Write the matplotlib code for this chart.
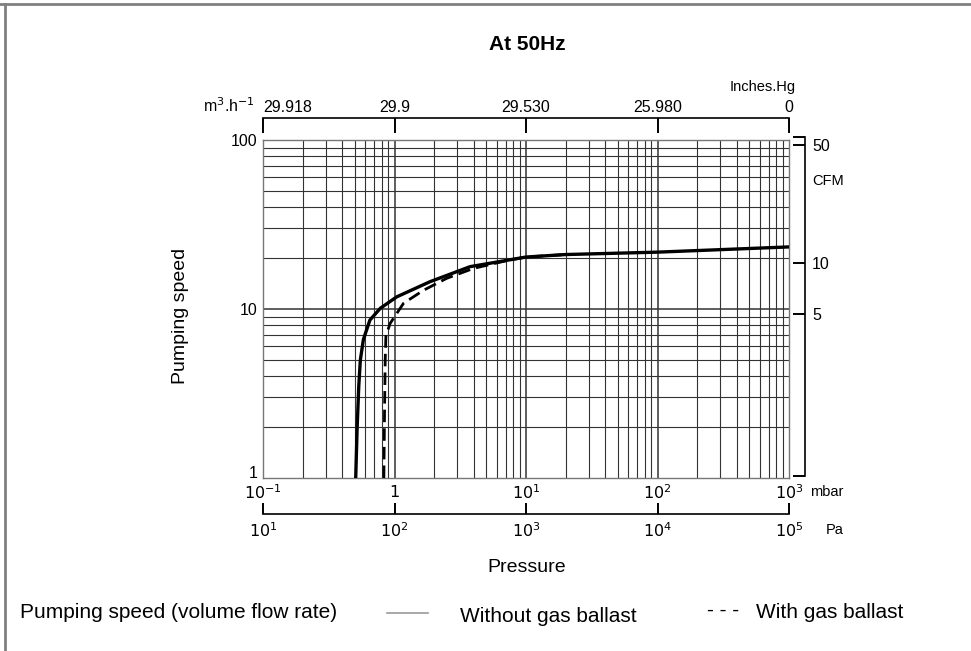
import matplotlib
matplotlib.use("Agg")
import matplotlib.pyplot as plt
from matplotlib.lines import Line2D
from matplotlib.ticker import FixedLocator, NullFormatter, NullLocator

plt.rcParams["font.family"] = ["Liberation Sans", "DejaVu Sans"]

# curve without gas ballast (pressure in mbar, speed in m3/h)
p_no_ballast = [0.507, 0.52, 0.535, 0.55, 0.58, 0.65, 0.78, 1.04, 1.86, 3.75, 10, 20, 100, 1000]
s_no_ballast = [1.0, 2.0, 3.5, 5.0, 6.6, 8.6, 10.1, 11.8, 14.5, 17.8, 20.3, 21.0, 21.7, 23.3]

# curve with gas ballast
p_ballast = [0.83, 0.84, 0.85, 0.86, 0.925, 1.17, 1.66, 2.5, 4.0, 7.5, 10, 20]
s_ballast = [1.0, 2.5, 5.0, 6.9, 8.2, 10.8, 12.9, 15.2, 17.4, 19.5, 20.3, 21.0]

mbar_ticks = [0.1, 1, 10, 100, 1000]
mbar_labels = ["$10^{-1}$", "$1$", "$10^{1}$", "$10^{2}$", "$10^{3}$"]
pa_labels = ["$10^{1}$", "$10^{2}$", "$10^{3}$", "$10^{4}$", "$10^{5}$"]
inhg_labels = ["29.918", "29.9", "29.530", "25.980", "0"]
speed_ticks = [1, 10, 100]
cfm_ticks = [5, 10, 50]
M3H_PER_CFM = 1.8  # as drawn on the original scale

W, H = 971, 651
fig = plt.figure(figsize=(W / 100, H / 100), dpi=100)


def fx(px):
    return px / W


def fy(py):
    return 1 - py / H


TICK_FS = 11.5
left, right, top, bottom = 263, 789, 140, 478
ax = fig.add_axes([fx(left), fy(bottom), fx(right - left), fy(top) - fy(bottom)])
ax.set_xscale("log")
ax.set_yscale("log")
ax.set_xlim(0.1, 1000)
ax.set_ylim(1, 100)

# log grid
for k in range(-1, 3):
    for m in range(1, 10):
        v = m * 10 ** k
        if 0.1 < v < 1000:
            ax.axvline(v, color="#333333", lw=0.8 if m > 1 else 1.1, zorder=1)
for k in range(0, 2):
    for m in range(1, 10):
        v = m * 10 ** k
        if 1 < v < 100:
            ax.axhline(v, color="#333333", lw=0.8 if m > 1 else 1.1, zorder=1)

ax.plot(p_no_ballast, s_no_ballast, color="black", lw=2.4, zorder=3)
ax.plot(p_ballast, s_ballast, color="black", lw=2.0, dashes=(4.5, 2.2), zorder=3)

for s in ax.spines.values():
    s.set_color("#777777")
    s.set_linestyle((0, (2, 1)))
    s.set_linewidth(1.0)

ax.xaxis.set_major_locator(FixedLocator(mbar_ticks))
ax.set_xticklabels(mbar_labels)
ax.xaxis.set_minor_locator(NullLocator())
ax.yaxis.set_major_locator(FixedLocator(speed_ticks))
ax.set_yticklabels([str(v) for v in speed_ticks])
ax.yaxis.set_minor_locator(NullLocator())
ax.yaxis.set_minor_formatter(NullFormatter())
ax.tick_params(axis="both", length=0, labelsize=TICK_FS, pad=4)
# the "1" sits just above the bottom edge, clear of the mbar labels
ax.get_yticklabels()[0].set_verticalalignment("baseline")

# top bracket: inches Hg
ax_top = fig.add_axes([fx(left), fy(118), fx(right - left), 0.0001])
ax_top.set_xscale("log")
ax_top.set_xlim(0.1, 1000)
ax_top.patch.set_visible(False)
for name, s in ax_top.spines.items():
    s.set_visible(name == "top")
ax_top.spines["top"].set_linewidth(1.2)
ax_top.xaxis.set_major_locator(FixedLocator(mbar_ticks))
ax_top.set_xticklabels(inhg_labels)
ax_top.xaxis.set_minor_locator(NullLocator())
ax_top.xaxis.tick_top()
ax_top.tick_params(axis="x", direction="in", length=11, width=1.4, labelsize=TICK_FS, pad=2)
ax_top.get_xticklabels()[0].set_horizontalalignment("left")
ax_top.set_yticks([])

# bottom bracket: Pa
ax_pa = fig.add_axes([fx(left), fy(514), fx(right - left), 0.0001])
ax_pa.set_xscale("log")
ax_pa.set_xlim(0.1, 1000)
ax_pa.patch.set_visible(False)
for name, s in ax_pa.spines.items():
    s.set_visible(name == "bottom")
ax_pa.spines["bottom"].set_linewidth(1.2)
ax_pa.xaxis.set_major_locator(FixedLocator(mbar_ticks))
ax_pa.set_xticklabels(pa_labels)
ax_pa.xaxis.set_minor_locator(NullLocator())
ax_pa.tick_params(axis="x", direction="in", length=8, width=1.4, labelsize=TICK_FS, pad=5)
ax_pa.set_yticks([])

# right bracket: CFM
ax_cfm = fig.add_axes([fx(805), fy(476), 0.0001, fy(137) - fy(476)])
ax_cfm.set_yscale("log")
ax_cfm.set_ylim(1 / M3H_PER_CFM, 100 / M3H_PER_CFM)
ax_cfm.patch.set_visible(False)
for name, s in ax_cfm.spines.items():
    s.set_visible(name == "right")
ax_cfm.spines["right"].set_linewidth(1.2)
ax_cfm.yaxis.tick_right()
ax_cfm.yaxis.set_major_locator(FixedLocator(cfm_ticks))
ax_cfm.set_yticklabels([str(v) for v in cfm_ticks])
ax_cfm.yaxis.set_minor_locator(FixedLocator([1 / M3H_PER_CFM, 100 / M3H_PER_CFM]))
ax_cfm.yaxis.set_minor_formatter(NullFormatter())
ax_cfm.tick_params(axis="y", which="both", direction="in", length=9, width=1.4,
                   labelsize=TICK_FS, pad=5)
ax_cfm.set_xticks([])

# labels
fig.text(fx(527), fy(45), "At 50Hz", ha="center", va="center", fontsize=15, fontweight="bold")
fig.text(fx(180), fy(316), "Pumping speed", ha="center", va="center", rotation=90, fontsize=14)
fig.text(fx(527), fy(568), "Pressure", ha="center", va="center", fontsize=14)
fig.text(fx(796), fy(87), "Inches.Hg", ha="right", va="center", fontsize=10.5)
fig.text(fx(255), fy(106), "m$^3$.h$^{-1}$", ha="right", va="center", fontsize=TICK_FS)
fig.text(fx(812), fy(181), "CFM", ha="left", va="center", fontsize=10.5)
fig.text(fx(810), fy(492), "mbar", ha="left", va="center", fontsize=10.5)
fig.text(fx(826), fy(530), "Pa", ha="left", va="center", fontsize=10.5)

# legend row
LEG_FS = 15
fig.text(fx(20), fy(612), "Pumping speed (volume flow rate)", ha="left", va="center", fontsize=LEG_FS)
fig.add_artist(Line2D([fx(387), fx(428)], [fy(613), fy(613)], color="#9a9a9a", lw=1.2))
fig.text(fx(460), fy(617), "Without gas ballast", ha="left", va="center", fontsize=LEG_FS)
fig.text(fx(707), fy(610), "- - -", ha="left", va="center", fontsize=LEG_FS)
fig.text(fx(756), fy(612), "With gas ballast", ha="left", va="center", fontsize=LEG_FS)

# outer frame (top and left)
fig.add_artist(Line2D([0, 1], [fy(4), fy(4)], color="#808080", lw=2.0))
fig.add_artist(Line2D([fx(5), fx(5)], [0, fy(4)], color="#808080", lw=2.0))

fig.savefig("out.png", dpi=100)
